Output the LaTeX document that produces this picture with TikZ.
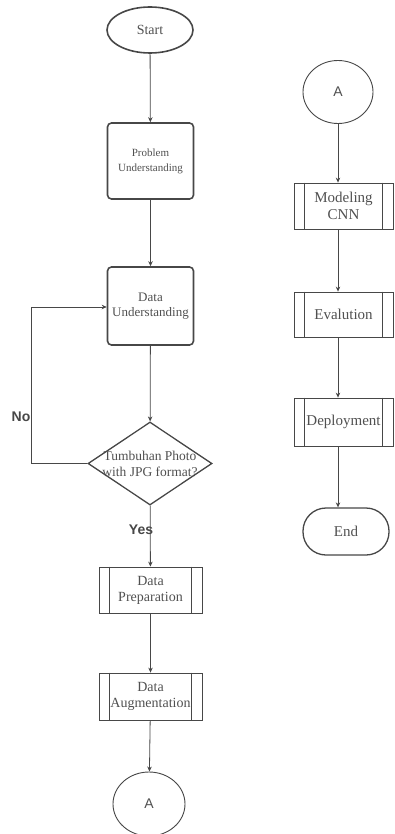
\documentclass[tikz,border=0pt]{standalone}
\usepackage{fontspec}
\setmainfont{Liberation Serif}
\newfontfamily\labsans{Liberation Sans}
\usetikzlibrary{shapes.geometric,arrows.meta}
\definecolor{ln}{HTML}{474747}
\definecolor{tx}{HTML}{505050}
\tikzset{
  base/.style={draw=ln, text=tx, align=center, inner sep=0pt, font=\fontsize{14}{16}\selectfont},
  termnode/.style={base, ellipse, line width=1.6pt, minimum width=86pt, minimum height=46pt},
  procbox/.style={base, rectangle, rounded corners=4pt, line width=1.6pt, minimum width=86pt},
  predef/.style={base, rectangle, line width=0.8pt, minimum width=100pt},
  decide/.style={base, diamond, line width=1.3pt, minimum width=124pt, minimum height=83pt, aspect=1.5},
  connector/.style={base, ellipse, line width=0.9pt, font=\labsans\fontsize{14}{16}\selectfont},
  arr/.style={draw=ln, line width=0.8pt, -{Stealth[length=5pt,width=4.5pt]}},
  lab/.style={text=ln, font=\labsans\bfseries\fontsize{14}{16}\selectfont, inner sep=0pt}
}
\begin{document}
\begin{tikzpicture}[x=1pt,y=-1pt]
\useasboundingbox (0,0) rectangle (395,834);
\clip (0,0) rectangle (395,834);
% left column
\node[termnode] (start) at (150,30) {Start};
\node[procbox, minimum height=76pt, font=\fontsize{11}{15}\selectfont] (prob) at (150.5,161) {Problem\\Understanding};
\node[procbox, minimum height=78pt, font=\fontsize{13}{15}\selectfont] (data) at (150.5,306) {Data\\Understanding};
\node[decide, font=\fontsize{13.5}{16}\selectfont] (dec) at (150,463.5) {};
\node[text=tx, align=center, font=\fontsize{13.5}{16}\selectfont, inner sep=0pt] (dect) at (150,464) {Tumbuhan Photo\\with JPG format?};
\node[predef, minimum width=103pt, minimum height=46pt] (prep) at (150.5,590) {Data\\Preparation};
\node[predef, minimum width=103pt, minimum height=47pt] (aug) at (150.5,696.5) {Data\\Augmentation};
\node[connector, minimum width=72pt, minimum height=64pt] (a1) at (149,804) {A};
% right column
\node[connector, minimum width=70pt, minimum height=63pt] (a2) at (338,92) {A};
\node[predef, minimum width=99pt, minimum height=46pt, font=\fontsize{15}{17}\selectfont] (model) at (343.5,206) {Modeling\\CNN};
\node[predef, minimum width=99pt, minimum height=45pt, font=\fontsize{15}{17}\selectfont] (eval) at (343.5,314.5) {Evalution};
\node[predef, minimum width=99pt, minimum height=48pt, font=\fontsize{15}{17}\selectfont] (dep) at (343.5,422) {Deployment};
\node[base, rectangle, rounded corners=23pt, line width=1.3pt, minimum width=86pt, minimum height=47pt, font=\fontsize{15}{17}\selectfont] (end) at (346,531.5) {End};
% inner lines of predefined-process boxes
\foreach \n in {prep,aug,model,eval,dep}{
  \draw[ln, line width=0.8pt] ([xshift=11pt]\n.north west) -- ([xshift=11pt]\n.south west);
  \draw[ln, line width=0.8pt] ([xshift=-11pt]\n.north east) -- ([xshift=-11pt]\n.south east);
}
% connectors left
\draw[arr] (start) -- (prob);
\draw[arr] (prob) -- (data);
\draw[arr] (data) -- (dec);
\draw[arr] (dec) -- (prep);
\draw[arr] (prep) -- (aug);
\draw[arr] (aug) -- (a1);
\coordinate (lp1) at (31,463.5);
\coordinate (lp2) at (31,307);
\draw[arr] (dec.west) -- (lp1) -- (lp2) -- (lp2 -| data.west);
\node[lab] (no) at (21,417) {No};
\node[lab] (yes) at (141,530) {Yes};
% connectors right
\draw[arr] (a2) -- (a2 |- model.north);
\draw[arr] (a2 |- model.south) -- (a2 |- eval.north);
\draw[arr] (a2 |- eval.south) -- (a2 |- dep.north);
\draw[arr] (a2 |- dep.south) -- (a2 |- end.north);
\end{tikzpicture}
\end{document}
